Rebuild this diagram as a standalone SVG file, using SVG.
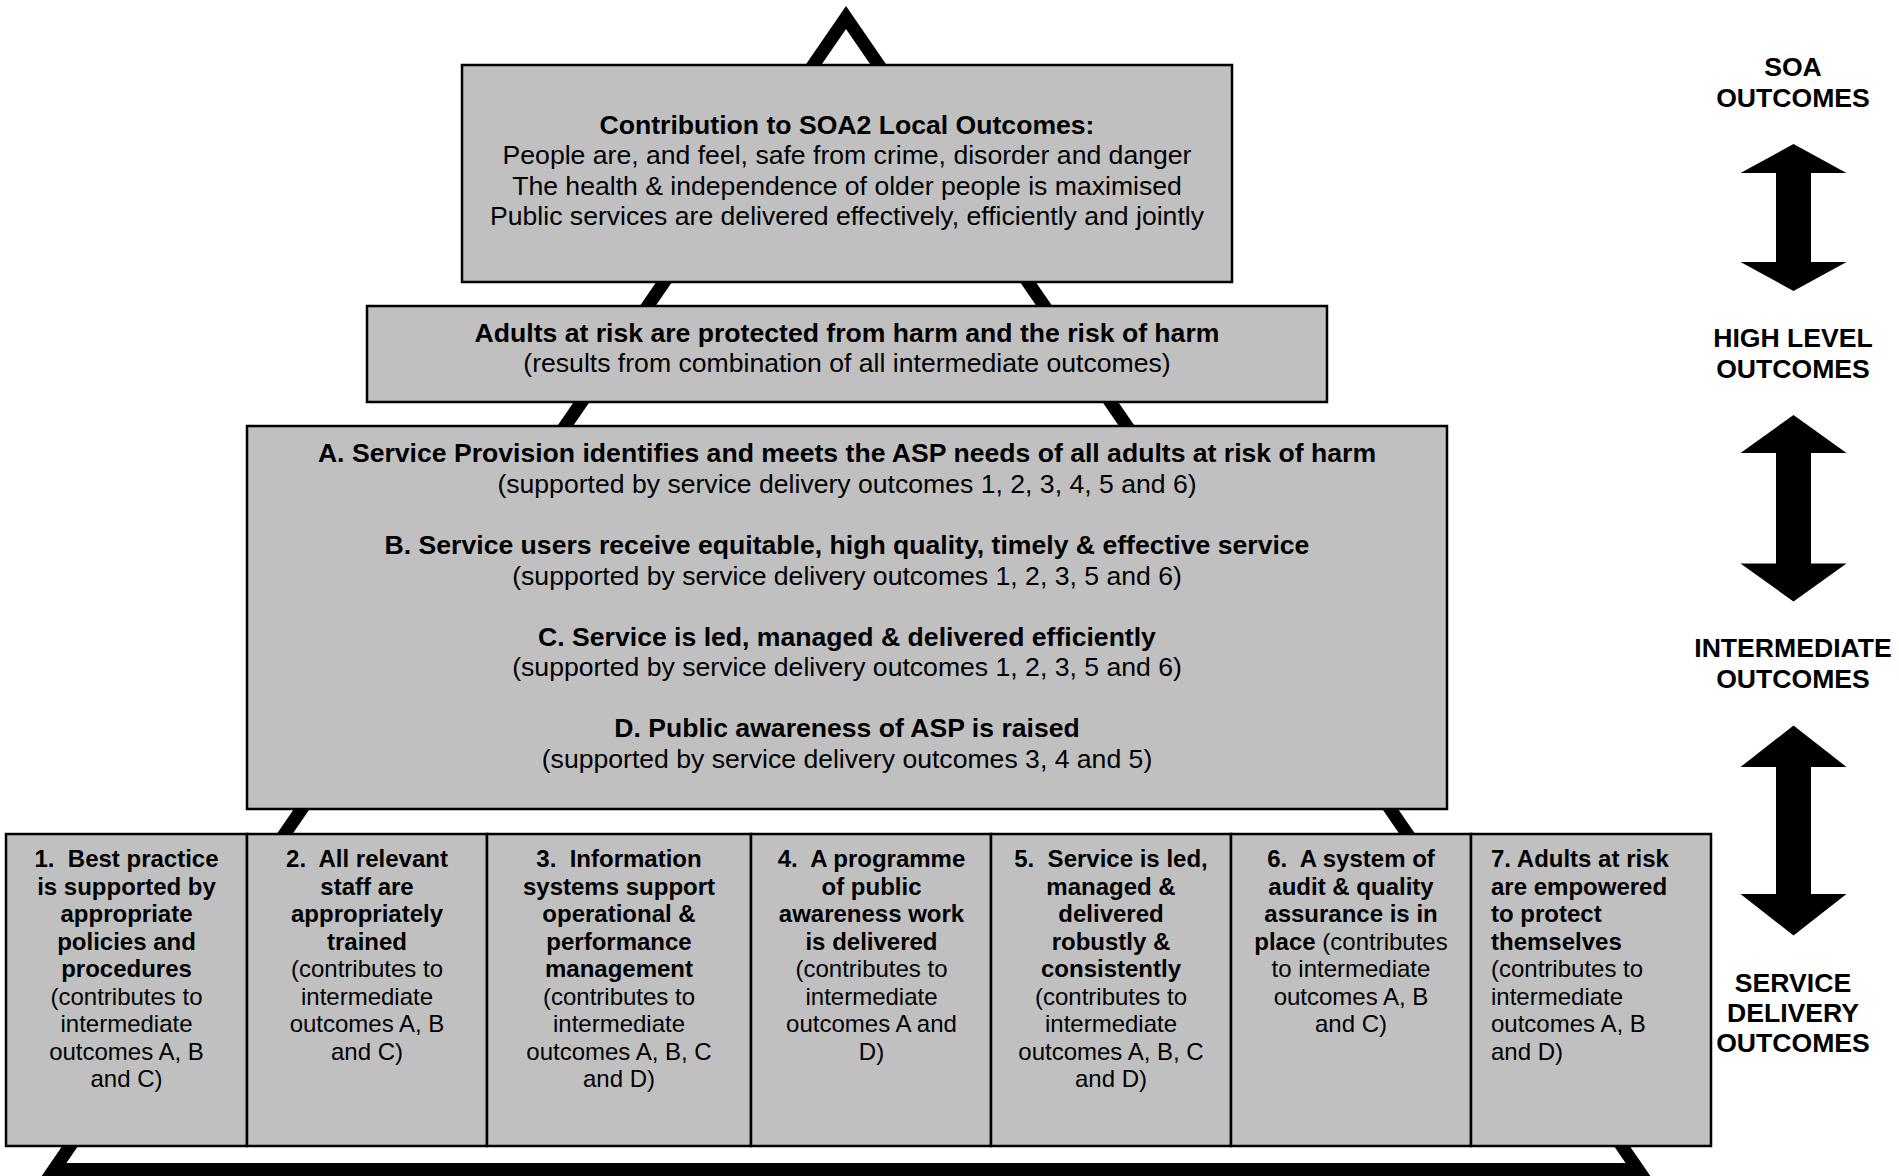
<svg xmlns="http://www.w3.org/2000/svg" width="1899" height="1176" viewBox="0 0 1899 1176">
<style>
  .box{fill:#c0c0c0;stroke:#000;stroke-width:2.5}
  text{font-family:"Liberation Sans",Arial,sans-serif;fill:#000}
  .t{font-size:26.6px;text-anchor:middle}
  .s{font-size:24px}
  .m{text-anchor:middle}
  .b{font-weight:bold}
  .arrow{fill:#000}
</style>
<defs>
  <path id="dblArrow1" d="M0,0"/>
</defs>
<rect width="1899" height="1176" fill="#fff"/>

<g id="connectors">
  <polygon id="pyramid" points="846,17.5 1638,1169.5 54,1169.5" fill="none" stroke="#000" stroke-width="13" stroke-linejoin="miter"/>
  <polygon class="arrow" points="1793.5,144 1846.5,173 1811,173 1811,262 1846.5,262 1793.5,291 1740.5,262 1776,262 1776,173 1740.5,173"/>
  <polygon class="arrow" points="1793.5,415 1846.5,453 1811,453 1811,563.5 1846.5,563.5 1793.5,601.5 1740.5,563.5 1776,563.5 1776,453 1740.5,453"/>
  <polygon class="arrow" points="1793.5,725.5 1846.5,767 1811,767 1811,894 1846.5,894 1793.5,935.5 1740.5,894 1776,894 1776,767 1740.5,767"/>
</g>

<g id="soa-outcomes">
  <rect class="box" x="462" y="65" width="770" height="217"/>
  <text class="t b" x="847" y="133.5">Contribution to SOA2 Local Outcomes:</text>
  <text class="t" x="847" y="164">People are, and feel, safe from crime, disorder and danger</text>
  <text class="t" x="847" y="194.5">The health &amp; independence of older people is maximised</text>
  <text class="t" x="847" y="225">Public services are delivered effectively, efficiently and jointly</text>
</g>

<g id="high-level">
  <rect class="box" x="367" y="306" width="960" height="96"/>
  <text class="t b" x="847" y="342">Adults at risk are protected from harm and the risk of harm</text>
  <text class="t" x="847" y="372">(results from combination of all intermediate outcomes)</text>
</g>

<g id="intermediate">
  <rect class="box" x="247" y="426" width="1200" height="383"/>
  <text class="t b" x="847" y="462">A. Service Provision identifies and meets the ASP needs of all adults at risk of harm</text>
  <text class="t" x="847" y="492.5">(supported by service delivery outcomes 1, 2, 3, 4, 5 and 6)</text>
  <text class="t b" x="847" y="554">B. Service users receive equitable, high quality, timely &amp; effective service</text>
  <text class="t" x="847" y="584.5">(supported by service delivery outcomes 1, 2, 3, 5 and 6)</text>
  <text class="t b" x="847" y="645.5">C. Service is led, managed &amp; delivered efficiently</text>
  <text class="t" x="847" y="676">(supported by service delivery outcomes 1, 2, 3, 5 and 6)</text>
  <text class="t b" x="847" y="737">D. Public awareness of ASP is raised</text>
  <text class="t" x="847" y="767.5">(supported by service delivery outcomes 3, 4 and 5)</text>
</g>

<g id="sd1">
  <rect class="box" x="6" y="834" width="241" height="312"/>
  <text class="s m b" x="126.5" y="867">1.&#160; Best practice</text>
  <text class="s m b" x="126.5" y="894.5">is supported by</text>
  <text class="s m b" x="126.5" y="922">appropriate</text>
  <text class="s m b" x="126.5" y="949.7">policies and</text>
  <text class="s m b" x="126.5" y="977.2">procedures</text>
  <text class="s m" x="126.5" y="1004.8">(contributes to</text>
  <text class="s m" x="126.5" y="1032.3">intermediate</text>
  <text class="s m" x="126.5" y="1059.9">outcomes A, B</text>
  <text class="s m" x="126.5" y="1087.4">and C)</text>
</g>

<g id="sd2">
  <rect class="box" x="247" y="834" width="240" height="312"/>
  <text class="s m b" x="367" y="867">2.&#160; All relevant</text>
  <text class="s m b" x="367" y="894.5">staff are</text>
  <text class="s m b" x="367" y="922">appropriately</text>
  <text class="s m b" x="367" y="949.7">trained</text>
  <text class="s m" x="367" y="977.2">(contributes to</text>
  <text class="s m" x="367" y="1004.8">intermediate</text>
  <text class="s m" x="367" y="1032.3">outcomes A, B</text>
  <text class="s m" x="367" y="1059.9">and C)</text>
</g>

<g id="sd3">
  <rect class="box" x="487" y="834" width="264" height="312"/>
  <text class="s m b" x="619" y="867">3.&#160; Information</text>
  <text class="s m b" x="619" y="894.5">systems support</text>
  <text class="s m b" x="619" y="922">operational &amp;</text>
  <text class="s m b" x="619" y="949.7">performance</text>
  <text class="s m b" x="619" y="977.2">management</text>
  <text class="s m" x="619" y="1004.8">(contributes to</text>
  <text class="s m" x="619" y="1032.3">intermediate</text>
  <text class="s m" x="619" y="1059.9">outcomes A, B, C</text>
  <text class="s m" x="619" y="1087.4">and D)</text>
</g>

<g id="sd4">
  <rect class="box" x="751" y="834" width="240" height="312"/>
  <text class="s m b" x="871.5" y="867">4.&#160; A programme</text>
  <text class="s m b" x="871.5" y="894.5">of public</text>
  <text class="s m b" x="871.5" y="922">awareness work</text>
  <text class="s m b" x="871.5" y="949.7">is delivered</text>
  <text class="s m" x="871.5" y="977.2">(contributes to</text>
  <text class="s m" x="871.5" y="1004.8">intermediate</text>
  <text class="s m" x="871.5" y="1032.3">outcomes A and</text>
  <text class="s m" x="871.5" y="1059.9">D)</text>
</g>

<g id="sd5">
  <rect class="box" x="991" y="834" width="240" height="312"/>
  <text class="s m b" x="1111" y="867">5.&#160; Service is led,</text>
  <text class="s m b" x="1111" y="894.5">managed &amp;</text>
  <text class="s m b" x="1111" y="922">delivered</text>
  <text class="s m b" x="1111" y="949.7">robustly &amp;</text>
  <text class="s m b" x="1111" y="977.2">consistently</text>
  <text class="s m" x="1111" y="1004.8">(contributes to</text>
  <text class="s m" x="1111" y="1032.3">intermediate</text>
  <text class="s m" x="1111" y="1059.9">outcomes A, B, C</text>
  <text class="s m" x="1111" y="1087.4">and D)</text>
</g>

<g id="sd6">
  <rect class="box" x="1231" y="834" width="240" height="312"/>
  <text class="s m b" x="1351" y="867">6.&#160; A system of</text>
  <text class="s m b" x="1351" y="894.5">audit &amp; quality</text>
  <text class="s m b" x="1351" y="922">assurance is in</text>
  <text class="s m" x="1351" y="949.7"><tspan font-weight="bold">place</tspan> (contributes</text>
  <text class="s m" x="1351" y="977.2">to intermediate</text>
  <text class="s m" x="1351" y="1004.8">outcomes A, B</text>
  <text class="s m" x="1351" y="1032.3">and C)</text>
</g>

<g id="sd7">
  <rect class="box" x="1471" y="834" width="240" height="312"/>
  <text class="s b" x="1491" y="867">7. Adults at risk</text>
  <text class="s b" x="1491" y="894.5">are empowered</text>
  <text class="s b" x="1491" y="922">to protect</text>
  <text class="s b" x="1491" y="949.7">themselves</text>
  <text class="s" x="1491" y="977.2">(contributes to</text>
  <text class="s" x="1491" y="1004.8">intermediate</text>
  <text class="s" x="1491" y="1032.3">outcomes A, B</text>
  <text class="s" x="1491" y="1059.9">and D)</text>
</g>

<g id="labels">
  <text class="t b" x="1793" y="76">SOA</text>
  <text class="t b" x="1793" y="106.5">OUTCOMES</text>
  <text class="t b" x="1793" y="347">HIGH LEVEL</text>
  <text class="t b" x="1793" y="377.5">OUTCOMES</text>
  <text class="t b" x="1793" y="657">INTERMEDIATE</text>
  <text class="t b" x="1793" y="687.5">OUTCOMES</text>
  <text class="t b" x="1793" y="992">SERVICE</text>
  <text class="t b" x="1793" y="1022">DELIVERY</text>
  <text class="t b" x="1793" y="1052">OUTCOMES</text>
</g>
</svg>
